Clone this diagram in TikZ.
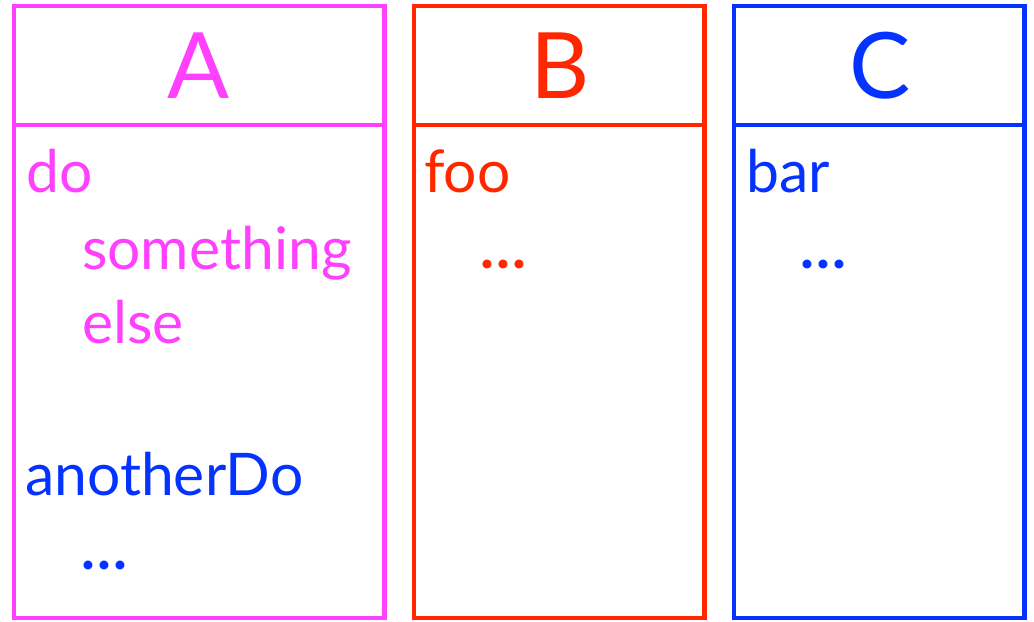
\documentclass[tikz,border=0pt]{standalone}
\usepackage{fontspec}
\setmainfont{Lato}
\definecolor{cpink}{HTML}{FF40FF}
\definecolor{cred}{HTML}{FF2600}
\definecolor{cblue}{HTML}{0433FF}
\newcommand{\sdots}{.\hspace{2bp}.\hspace{2bp}.}
\begin{document}
\begin{tikzpicture}[x=1bp,y=-1bp,
  box/.style={line width=4.5bp},
  title/.style={font=\fontsize{92}{92}\selectfont, anchor=base, inner sep=0pt},
  body/.style={font=\fontsize{59}{59}\selectfont, anchor=base west, inner sep=0pt},
  dotsty/.style={font=\fontsize{59}{59}\bfseries\selectfont, anchor=base west, inner sep=0pt}]
\useasboundingbox (0,0) rectangle (1034,622);
% box A
\draw[box,cpink] (14,6) rectangle (384.5,618);
\draw[box,cpink] (14,125) -- (384.5,125);
\node[title,text=cpink] (tA) at (199,99) {A};
\node[body,text=cpink] (a1) at (26,193) {do};
\node[body,text=cpink] (a2) at (82,270) {something};
\node[body,text=cpink] (a3) at (82,343) {else};
\node[body,text=cblue] (a4) at (25,495) {anotherDo};
\node[dotsty,text=cblue] (a5) at (81,569) {\sdots};
% box B
\draw[box,cred] (414,6) rectangle (704.5,618);
\draw[box,cred] (414,125) -- (704.5,125);
\node[title,text=cred] (tB) at (560,99) {B};
\node[body,text=cred] (b1) at (424,193) {foo};
\node[dotsty,text=cred] (b2) at (480,269) {\sdots};
% box C
\draw[box,cblue] (734,6) rectangle (1024.5,618);
\draw[box,cblue] (734,125) -- (1024.5,125);
\node[title,text=cblue] (tC) at (880,99) {C};
\node[body,text=cblue] (c1) at (746,193) {bar};
\node[dotsty,text=cblue] (c2) at (800,269) {\sdots};
\end{tikzpicture}
\end{document}
